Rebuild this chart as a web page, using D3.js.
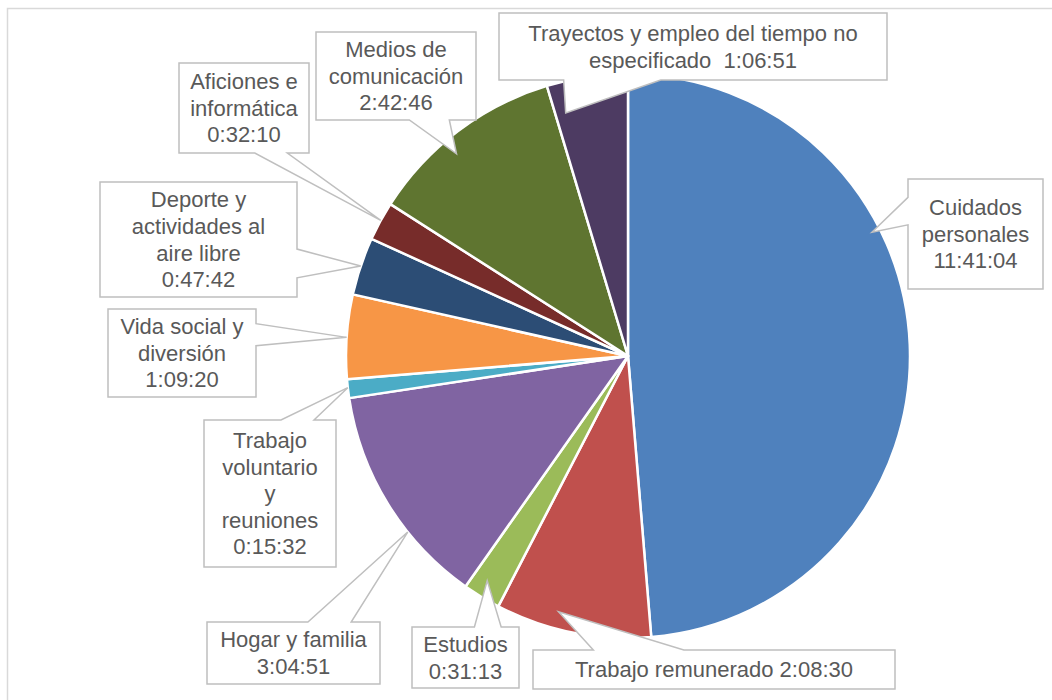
<!DOCTYPE html>
<html>
<head>
<meta charset="utf-8">
<script src="https://cdn.jsdelivr.net/npm/d3@7"></script>
<style>
  body { margin: 0; background: #fff; }
  svg { display: block; }
</style>
</head>
<body>
<script>
// time use per activity, h:mm:ss
const categories = ['Cuidados personales', 'Trabajo remunerado', 'Estudios', 'Hogar y familia',
  'Trabajo voluntario y reuniones', 'Vida social y diversión', 'Deporte y actividades al aire libre',
  'Aficiones e informática', 'Medios de comunicación', 'Trayectos y empleo del tiempo no especificado'];
const times = ['11:41:04', '2:08:30', '0:31:13', '3:04:51', '0:15:32', '1:09:20', '0:47:42', '0:32:10', '2:42:46', '1:06:51'];
const colors = ['#4F81BD', '#C0504D', '#9BBB59', '#8064A2', '#4BACC6', '#F79646', '#2C4D75', '#772C2A', '#5F7530', '#4D3B62'];

// wrapped label text, as in the original
const labelLines = [
  ['Cuidados', 'personales'],
  ['Trabajo remunerado'],
  ['Estudios'],
  ['Hogar y familia'],
  ['Trabajo', 'voluntario', 'y', 'reuniones'],
  ['Vida social y', 'diversión'],
  ['Deporte y', 'actividades al', 'aire libre'],
  ['Aficiones e', 'informática'],
  ['Medios de', 'comunicación'],
  ['Trayectos y empleo del tiempo no', 'especificado ']
];
// callout boxes [x0, y0, x1, y1], and where the tail points inside its slice [fraction of angle, fraction of radius]
const boxes = [[908,179,1043,289],[533,650,895,689],[412,627,519,688],[207,622,380,684],[204,420,336,567],
  [108,309,256,397],[100,182,297,297],[179,63,309,153],[316,32,476,120],[499,13,887,80]];
const tips = [[0.36,0.97],[0.62,0.94],[0.6,0.94],[0.35,1.0],[0.55,1.0],[0.49,1.0],[0.5,1.0],[0.52,1.0],[0.42,0.94],[0.14,0.89]];

const toSec = s => { const p = s.split(':').map(Number); return p[0]*3600 + p[1]*60 + p[2]; };
const values = times.map(toSec);

const width = 1052, height = 700;
const cx = 628, cy = 356, radius = 282;
const fontSize = 22, lineH = 26.6;

const svg = d3.select('body').append('svg')
  .attr('width', width).attr('height', height);

svg.append('rect')
  .attr('x', 7.5).attr('y', 8.5).attr('width', 1100).attr('height', 800)
  .attr('fill', 'none').attr('stroke', '#D9D9D9').attr('stroke-width', 1.5);

const pie = d3.pie().sort(null).value(d => d);
const arcs = pie(values);
const arc = d3.arc().innerRadius(0).outerRadius(radius);

const g = svg.append('g').attr('transform', `translate(${cx},${cy})`);
g.selectAll('path.slice')
  .data(arcs)
  .enter()
  .append('path')
  .attr('class', 'slice')
  .attr('d', arc)
  .attr('fill', (d, i) => colors[i])
  .attr('stroke', '#fff')
  .attr('stroke-width', 2.5)
  .attr('stroke-linejoin', 'round');

// wedgeRectCallout path like office shapes
function calloutPath(b, tx, ty) {
  const [x0, y0, x1, y1] = b;
  const w = x1 - x0, h = y1 - y0;
  const mx = (x0 + x1) / 2, my = (y0 + y1) / 2;
  const dx = tx - mx, dy = ty - my;
  const sideways = Math.abs(dx * h / w) > Math.abs(dy);
  let p = `M${x0},${y0}`;
  // top
  if (!sideways && dy < 0) {
    const a = dx < 0 ? [2, 5] : [7, 10];
    p += `L${x0 + w*a[0]/12},${y0}L${tx},${ty}L${x0 + w*a[1]/12},${y0}`;
  }
  p += `L${x1},${y0}`;
  // right
  if (sideways && dx > 0) {
    const a = dy < 0 ? [2, 5] : [7, 10];
    p += `L${x1},${y0 + h*a[0]/12}L${tx},${ty}L${x1},${y0 + h*a[1]/12}`;
  }
  p += `L${x1},${y1}`;
  // bottom
  if (!sideways && dy > 0) {
    const a = dx < 0 ? [2, 5] : [7, 10];
    p += `L${x0 + w*a[1]/12},${y1}L${tx},${ty}L${x0 + w*a[0]/12},${y1}`;
  }
  p += `L${x0},${y1}`;
  // left
  if (sideways && dx < 0) {
    const a = dy < 0 ? [2, 5] : [7, 10];
    p += `L${x0},${y0 + h*a[1]/12}L${tx},${ty}L${x0},${y0 + h*a[0]/12}`;
  }
  return p + 'Z';
}

const labels = svg.selectAll('g.label')
  .data(arcs)
  .enter()
  .append('g')
  .attr('class', 'label');

labels.append('path')
  .attr('d', (d, i) => {
    const t = tips[i];
    const ang = d.startAngle + (d.endAngle - d.startAngle) * t[0];
    const rr = radius * t[1];
    return calloutPath(boxes[i], cx + rr * Math.sin(ang), cy - rr * Math.cos(ang));
  })
  .attr('fill', '#fff')
  .attr('stroke', '#BFBFBF')
  .attr('stroke-width', 1.5);

labels.each(function(d, i) {
  const b = boxes[i];
  let lines = labelLines[i].slice();
  // value goes on its own line, or after the name when the box is one line wide
  if (i === 1) lines = [lines[0] + ' ' + times[i]];
  else if (i === 9) lines[1] = lines[1] + ' ' + times[i];
  else lines.push(times[i]);
  const n = lines.length;
  const mx = (b[0] + b[2]) / 2, my = (b[1] + b[3]) / 2;
  const t = d3.select(this).append('text')
    .attr('text-anchor', 'middle')
    .attr('font-family', 'Liberation Sans, Arial, sans-serif')
    .attr('font-size', fontSize)
    .attr('fill', '#595959')
    .attr('xml:space', 'preserve');
  lines.forEach((ln, k) => {
    t.append('tspan')
      .attr('x', mx)
      .attr('y', my + (k - (n - 1) / 2) * lineH + fontSize * 0.35)
      .text(ln);
  });
});
</script>
</body>
</html>
